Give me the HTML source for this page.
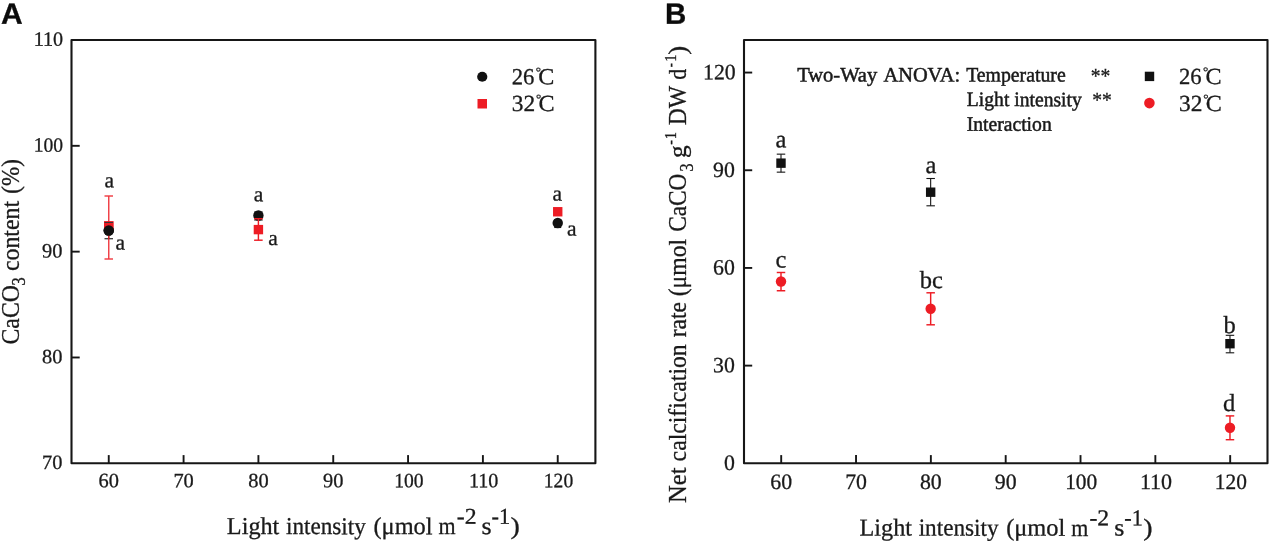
<!DOCTYPE html>
<html><head><meta charset="utf-8"><title>Figure</title>
<style>
html,body{margin:0;padding:0;background:#fff;}
body{width:1269px;height:543px;overflow:hidden;}
svg{display:block;will-change:transform;font-family:"Liberation Serif", "Noto Serif CJK SC", serif;}
svg text{fill:#1a1a1a;stroke:#1a1a1a;stroke-width:0.3px;}
</style></head>
<body>
<svg width="1269" height="543" viewBox="0 0 1269 543">
<rect width="1269" height="543" fill="#ffffff"/>
<rect x="71.5" y="40.0" width="523.90" height="423.30" fill="none" stroke="#161616" stroke-width="2.1" stroke-linejoin="round"/>
<line x1="108.75" y1="463.30" x2="108.75" y2="455.10" stroke="#161616" stroke-width="1.9"/>
<text transform="translate(108.75,487.30) rotate(0.03)" font-size="20.4" text-anchor="middle" >60</text>
<line x1="183.58" y1="463.30" x2="183.58" y2="455.10" stroke="#161616" stroke-width="1.9"/>
<text transform="translate(183.58,487.30) rotate(0.03)" font-size="20.4" text-anchor="middle" >70</text>
<line x1="258.41" y1="463.30" x2="258.41" y2="455.10" stroke="#161616" stroke-width="1.9"/>
<text transform="translate(258.41,487.30) rotate(0.03)" font-size="20.4" text-anchor="middle" >80</text>
<line x1="333.24" y1="463.30" x2="333.24" y2="455.10" stroke="#161616" stroke-width="1.9"/>
<text transform="translate(333.24,487.30) rotate(0.03)" font-size="20.4" text-anchor="middle" >90</text>
<line x1="408.07" y1="463.30" x2="408.07" y2="455.10" stroke="#161616" stroke-width="1.9"/>
<text transform="translate(394.16,487.30) rotate(0.03)" font-size="20.4" textLength="29.35" lengthAdjust="spacingAndGlyphs" >100</text>
<line x1="482.90" y1="463.30" x2="482.90" y2="455.10" stroke="#161616" stroke-width="1.9"/>
<text transform="translate(468.94,487.30) rotate(0.03)" font-size="20.4" textLength="29.42" lengthAdjust="spacingAndGlyphs" >110</text>
<line x1="557.73" y1="463.30" x2="557.73" y2="455.10" stroke="#161616" stroke-width="1.9"/>
<text transform="translate(543.82,487.30) rotate(0.03)" font-size="20.4" textLength="29.35" lengthAdjust="spacingAndGlyphs" >120</text>
<text transform="translate(62.40,469.10) rotate(0.03)" font-size="20.4" text-anchor="end" >70</text>
<line x1="71.50" y1="357.48" x2="79.70" y2="357.48" stroke="#161616" stroke-width="1.9"/>
<text transform="translate(62.40,363.28) rotate(0.03)" font-size="20.4" text-anchor="end" >80</text>
<line x1="71.50" y1="251.65" x2="79.70" y2="251.65" stroke="#161616" stroke-width="1.9"/>
<text transform="translate(62.40,257.45) rotate(0.03)" font-size="20.4" text-anchor="end" >90</text>
<line x1="71.50" y1="145.82" x2="79.70" y2="145.82" stroke="#161616" stroke-width="1.9"/>
<text transform="translate(33.79,151.62) rotate(0.03)" font-size="20.4" textLength="29.35" lengthAdjust="spacingAndGlyphs" >100</text>
<text transform="translate(33.74,45.80) rotate(0.03)" font-size="20.4" textLength="29.42" lengthAdjust="spacingAndGlyphs" >110</text>
<rect x="104.05" y="221.30" width="9.4" height="9.4" fill="#ed1c24"/>
<line x1="108.75" y1="222.50" x2="108.75" y2="238.75" stroke="#151515" stroke-width="1.1"/>
<line x1="104.50" y1="222.50" x2="113.00" y2="222.50" stroke="#151515" stroke-width="1.1"/>
<line x1="104.50" y1="238.75" x2="113.00" y2="238.75" stroke="#151515" stroke-width="1.1"/>
<circle cx="108.75" cy="230.50" r="5.2" fill="#111"/>
<g opacity="0.85">
<line x1="108.75" y1="196.00" x2="108.75" y2="259.00" stroke="#ed1c24" stroke-width="1.45"/>
<line x1="104.50" y1="196.00" x2="113.00" y2="196.00" stroke="#ed1c24" stroke-width="1.45"/>
<line x1="104.50" y1="259.00" x2="113.00" y2="259.00" stroke="#ed1c24" stroke-width="1.45"/>
</g>
<rect x="104.05" y="221.30" width="9.4" height="9.4" fill="#ed1c24"/>
<circle cx="108.75" cy="230.50" r="5.2" fill="#111"/>
<line x1="104.55" y1="222.50" x2="112.95" y2="222.50" stroke="#0c3a3a" stroke-width="0.8"/>
<line x1="258.41" y1="212.00" x2="258.41" y2="220.00" stroke="#151515" stroke-width="1.1"/>
<line x1="254.16" y1="212.00" x2="262.66" y2="212.00" stroke="#151515" stroke-width="1.1"/>
<line x1="254.16" y1="220.00" x2="262.66" y2="220.00" stroke="#151515" stroke-width="1.1"/>
<circle cx="258.41" cy="215.50" r="5.2" fill="#111"/>
<line x1="258.41" y1="218.75" x2="258.41" y2="240.20" stroke="#ed1c24" stroke-width="1.45"/>
<line x1="254.16" y1="218.75" x2="262.66" y2="218.75" stroke="#ed1c24" stroke-width="1.45"/>
<line x1="254.16" y1="240.20" x2="262.66" y2="240.20" stroke="#ed1c24" stroke-width="1.45"/>
<rect x="253.71" y="224.90" width="9.4" height="9.4" fill="#ed1c24"/>
<rect x="553.03" y="207.05" width="9.4" height="9.4" fill="#ed1c24"/>
<line x1="557.73" y1="220.00" x2="557.73" y2="227.50" stroke="#151515" stroke-width="1.1"/>
<line x1="554.23" y1="220.00" x2="561.23" y2="220.00" stroke="#151515" stroke-width="1.1"/>
<line x1="554.23" y1="227.50" x2="561.23" y2="227.50" stroke="#151515" stroke-width="1.1"/>
<circle cx="557.73" cy="223.00" r="5.2" fill="#111"/>
<text transform="translate(109.20,187.35) rotate(0.03)" font-size="21.5" text-anchor="middle" >a</text>
<text transform="translate(120.30,249.60) rotate(0.03)" font-size="21.5" text-anchor="middle" >a</text>
<text transform="translate(258.50,201.35) rotate(0.03)" font-size="21.5" text-anchor="middle" >a</text>
<text transform="translate(272.90,245.10) rotate(0.03)" font-size="21.5" text-anchor="middle" >a</text>
<text transform="translate(557.30,200.60) rotate(0.03)" font-size="21.5" text-anchor="middle" >a</text>
<text transform="translate(571.80,235.60) rotate(0.03)" font-size="21.5" text-anchor="middle" >a</text>
<circle cx="482.25" cy="76.75" r="5.1" fill="#111"/>
<rect x="477.50" y="99.00" width="9.5" height="9.5" fill="#ed1c24"/>
<text transform="translate(511.74,84.20) rotate(0.03)" font-size="23" textLength="22.64" lengthAdjust="spacingAndGlyphs" >26</text>
<text transform="translate(535.78,76.10) rotate(0.03)" font-size="12.6" textLength="5.24" lengthAdjust="spacingAndGlyphs" >°</text>
<text transform="translate(538.34,84.20) rotate(0.03)" font-size="23" textLength="16.08" lengthAdjust="spacingAndGlyphs" >C</text>
<text transform="translate(511.79,111.00) rotate(0.03)" font-size="23" textLength="23.40" lengthAdjust="spacingAndGlyphs" >32</text>
<text transform="translate(535.98,102.90) rotate(0.03)" font-size="12.6" textLength="5.24" lengthAdjust="spacingAndGlyphs" >°</text>
<text transform="translate(538.54,111.00) rotate(0.03)" font-size="23" textLength="16.08" lengthAdjust="spacingAndGlyphs" >C</text>
<rect x="1144.80" y="71.70" width="9.4" height="9.4" fill="#111"/>
<circle cx="1149.40" cy="103.10" r="5.3" fill="#ed1c24"/>
<text transform="translate(1178.94,83.90) rotate(0.03)" font-size="23" textLength="22.64" lengthAdjust="spacingAndGlyphs" >26</text>
<text transform="translate(1202.98,75.80) rotate(0.03)" font-size="12.6" textLength="5.24" lengthAdjust="spacingAndGlyphs" >°</text>
<text transform="translate(1205.54,83.90) rotate(0.03)" font-size="23" textLength="16.08" lengthAdjust="spacingAndGlyphs" >C</text>
<text transform="translate(1178.99,111.00) rotate(0.03)" font-size="23" textLength="23.40" lengthAdjust="spacingAndGlyphs" >32</text>
<text transform="translate(1203.18,102.90) rotate(0.03)" font-size="12.6" textLength="5.24" lengthAdjust="spacingAndGlyphs" >°</text>
<text transform="translate(1205.74,111.00) rotate(0.03)" font-size="23" textLength="16.08" lengthAdjust="spacingAndGlyphs" >C</text>
<text transform="translate(1.05,23.75) rotate(0.03)" font-size="29.3" textLength="21.67" lengthAdjust="spacingAndGlyphs" font-family='"Liberation Sans", sans-serif' font-weight='bold' style='fill:#0b0b0b;stroke:#0b0b0b'>A</text>
<text transform="translate(665.01,23.75) rotate(0.03)" font-size="29.3" textLength="21.31" lengthAdjust="spacingAndGlyphs" font-family='"Liberation Sans", sans-serif' font-weight='bold' style='fill:#0b0b0b;stroke:#0b0b0b'>B</text>
<text transform="translate(226.83,534.10) rotate(0.03)" font-size="24.2" textLength="52.53" lengthAdjust="spacingAndGlyphs" >Light</text>
<text transform="translate(285.94,534.10) rotate(0.03)" font-size="24.2" textLength="79.91" lengthAdjust="spacingAndGlyphs" >intensity</text>
<text transform="translate(373.46,534.10) rotate(0.03)" font-size="24.2" textLength="59.12" lengthAdjust="spacingAndGlyphs" >(μmol</text>
<text transform="translate(438.56,534.10) rotate(0.03)" font-size="24.2" textLength="17.08" lengthAdjust="spacingAndGlyphs" >m</text>
<text transform="translate(456.71,523.80) rotate(0.03)" font-size="22.6" textLength="19.81" lengthAdjust="spacingAndGlyphs" >-2</text>
<text transform="translate(481.46,534.10) rotate(0.03)" font-size="24.2" textLength="10.09" lengthAdjust="spacingAndGlyphs" >s</text>
<text transform="translate(491.56,523.80) rotate(0.03)" font-size="22.6" textLength="18.59" lengthAdjust="spacingAndGlyphs" >-1</text>
<text transform="translate(510.59,534.10) rotate(0.03)" font-size="24.2" textLength="9.31" lengthAdjust="spacingAndGlyphs" >)</text>
<text transform="translate(859.53,535.60) rotate(0.03)" font-size="24.2" textLength="52.53" lengthAdjust="spacingAndGlyphs" >Light</text>
<text transform="translate(918.64,535.60) rotate(0.03)" font-size="24.2" textLength="79.91" lengthAdjust="spacingAndGlyphs" >intensity</text>
<text transform="translate(1006.16,535.60) rotate(0.03)" font-size="24.2" textLength="59.12" lengthAdjust="spacingAndGlyphs" >(μmol</text>
<text transform="translate(1071.26,535.60) rotate(0.03)" font-size="24.2" textLength="17.08" lengthAdjust="spacingAndGlyphs" >m</text>
<text transform="translate(1089.41,525.30) rotate(0.03)" font-size="22.6" textLength="19.81" lengthAdjust="spacingAndGlyphs" >-2</text>
<text transform="translate(1114.16,535.60) rotate(0.03)" font-size="24.2" textLength="10.09" lengthAdjust="spacingAndGlyphs" >s</text>
<text transform="translate(1124.26,525.30) rotate(0.03)" font-size="22.6" textLength="18.59" lengthAdjust="spacingAndGlyphs" >-1</text>
<text transform="translate(1143.29,535.60) rotate(0.03)" font-size="24.2" textLength="9.31" lengthAdjust="spacingAndGlyphs" >)</text>
<text transform="translate(18.50,344.45) rotate(-90)" font-size="24.2" textLength="59.30" lengthAdjust="spacingAndGlyphs" >CaCO</text>
<text transform="translate(25.40,285.81) rotate(-90)" font-size="18.5" textLength="8.48" lengthAdjust="spacingAndGlyphs" >3</text>
<text transform="translate(18.50,271.09) rotate(-90)" font-size="24.2" textLength="70.24" lengthAdjust="spacingAndGlyphs" >content</text>
<text transform="translate(18.50,193.73) rotate(-90)" font-size="24.2" textLength="34.54" lengthAdjust="spacingAndGlyphs" >(%)</text>
<text transform="translate(686.10,502.98) rotate(-90)" font-size="24.2" textLength="35.53" lengthAdjust="spacingAndGlyphs" >Net</text>
<text transform="translate(686.10,461.39) rotate(-90)" font-size="24.2" textLength="117.12" lengthAdjust="spacingAndGlyphs" >calcification</text>
<text transform="translate(686.10,337.27) rotate(-90)" font-size="24.2" textLength="35.26" lengthAdjust="spacingAndGlyphs" >rate</text>
<text transform="translate(686.10,296.31) rotate(-90)" font-size="24.2" textLength="57.38" lengthAdjust="spacingAndGlyphs" >(μmol</text>
<text transform="translate(686.10,231.83) rotate(-90)" font-size="24.2" textLength="58.16" lengthAdjust="spacingAndGlyphs" >CaCO</text>
<text transform="translate(692.70,171.79) rotate(-90)" font-size="18.5" textLength="8.36" lengthAdjust="spacingAndGlyphs" >3</text>
<text transform="translate(686.10,157.88) rotate(-90)" font-size="24.2" textLength="12.69" lengthAdjust="spacingAndGlyphs" >g</text>
<text transform="translate(676.10,144.83) rotate(-90)" font-size="17.5" textLength="4.67" lengthAdjust="spacingAndGlyphs" >-</text>
<text transform="translate(676.10,139.32) rotate(-90)" font-size="17.5" textLength="7.23" lengthAdjust="spacingAndGlyphs" >1</text>
<text transform="translate(686.10,125.25) rotate(-90)" font-size="24.2" textLength="39.37" lengthAdjust="spacingAndGlyphs" >DW</text>
<text transform="translate(686.10,79.87) rotate(-90)" font-size="24.2" textLength="10.94" lengthAdjust="spacingAndGlyphs" >d</text>
<text transform="translate(676.10,67.16) rotate(-90)" font-size="17.5" textLength="4.10" lengthAdjust="spacingAndGlyphs" >-</text>
<text transform="translate(676.10,61.87) rotate(-90)" font-size="17.5" textLength="7.23" lengthAdjust="spacingAndGlyphs" >1</text>
<text transform="translate(686.10,54.67) rotate(-90)" font-size="24.2" textLength="8.92" lengthAdjust="spacingAndGlyphs" >)</text>
<rect x="744.0" y="40.0" width="523.50" height="423.30" fill="none" stroke="#161616" stroke-width="2.1" stroke-linejoin="round"/>
<line x1="781.20" y1="463.30" x2="781.20" y2="455.10" stroke="#161616" stroke-width="1.9"/>
<text transform="translate(781.20,488.90) rotate(0.03)" font-size="21.8" text-anchor="middle" >60</text>
<line x1="856.03" y1="463.30" x2="856.03" y2="455.10" stroke="#161616" stroke-width="1.9"/>
<text transform="translate(856.03,488.90) rotate(0.03)" font-size="21.8" text-anchor="middle" >70</text>
<line x1="930.86" y1="463.30" x2="930.86" y2="455.10" stroke="#161616" stroke-width="1.9"/>
<text transform="translate(930.86,488.90) rotate(0.03)" font-size="21.8" text-anchor="middle" >80</text>
<line x1="1005.69" y1="463.30" x2="1005.69" y2="455.10" stroke="#161616" stroke-width="1.9"/>
<text transform="translate(1005.69,488.90) rotate(0.03)" font-size="21.8" text-anchor="middle" >90</text>
<line x1="1080.52" y1="463.30" x2="1080.52" y2="455.10" stroke="#161616" stroke-width="1.9"/>
<text transform="translate(1065.15,488.90) rotate(0.03)" font-size="21.8" textLength="32.07" lengthAdjust="spacingAndGlyphs" >100</text>
<line x1="1155.35" y1="463.30" x2="1155.35" y2="455.10" stroke="#161616" stroke-width="1.9"/>
<text transform="translate(1139.93,488.90) rotate(0.03)" font-size="21.8" textLength="32.16" lengthAdjust="spacingAndGlyphs" >110</text>
<line x1="1230.18" y1="463.30" x2="1230.18" y2="455.10" stroke="#161616" stroke-width="1.9"/>
<text transform="translate(1214.81,488.90) rotate(0.03)" font-size="21.8" textLength="32.07" lengthAdjust="spacingAndGlyphs" >120</text>
<text transform="translate(734.90,469.95) rotate(0.03)" font-size="21.8" text-anchor="end" >0</text>
<line x1="744.00" y1="365.62" x2="752.20" y2="365.62" stroke="#161616" stroke-width="1.9"/>
<text transform="translate(734.90,372.27) rotate(0.03)" font-size="21.8" text-anchor="end" >30</text>
<line x1="744.00" y1="267.93" x2="752.20" y2="267.93" stroke="#161616" stroke-width="1.9"/>
<text transform="translate(734.90,274.58) rotate(0.03)" font-size="21.8" text-anchor="end" >60</text>
<line x1="744.00" y1="170.25" x2="752.20" y2="170.25" stroke="#161616" stroke-width="1.9"/>
<text transform="translate(734.90,176.90) rotate(0.03)" font-size="21.8" text-anchor="end" >90</text>
<line x1="744.00" y1="72.56" x2="752.20" y2="72.56" stroke="#161616" stroke-width="1.9"/>
<text transform="translate(702.99,79.21) rotate(0.03)" font-size="21.8" textLength="32.73" lengthAdjust="spacingAndGlyphs" >120</text>
<line x1="781.00" y1="154.15" x2="781.00" y2="172.15" stroke="#151515" stroke-width="1.1"/>
<line x1="776.75" y1="154.15" x2="785.25" y2="154.15" stroke="#151515" stroke-width="1.1"/>
<line x1="776.75" y1="172.15" x2="785.25" y2="172.15" stroke="#151515" stroke-width="1.1"/>
<rect x="776.30" y="158.45" width="9.4" height="9.4" fill="#111"/>
<line x1="781.00" y1="272.50" x2="781.00" y2="290.75" stroke="#ed1c24" stroke-width="1.45"/>
<line x1="776.75" y1="272.50" x2="785.25" y2="272.50" stroke="#ed1c24" stroke-width="1.45"/>
<line x1="776.75" y1="290.75" x2="785.25" y2="290.75" stroke="#ed1c24" stroke-width="1.45"/>
<circle cx="781.00" cy="281.50" r="5.2" fill="#ed1c24"/>
<line x1="930.66" y1="178.50" x2="930.66" y2="205.80" stroke="#151515" stroke-width="1.1"/>
<line x1="926.41" y1="178.50" x2="934.91" y2="178.50" stroke="#151515" stroke-width="1.1"/>
<line x1="926.41" y1="205.80" x2="934.91" y2="205.80" stroke="#151515" stroke-width="1.1"/>
<rect x="925.96" y="187.50" width="9.4" height="9.4" fill="#111"/>
<line x1="930.66" y1="292.80" x2="930.66" y2="324.80" stroke="#ed1c24" stroke-width="1.45"/>
<line x1="926.41" y1="292.80" x2="934.91" y2="292.80" stroke="#ed1c24" stroke-width="1.45"/>
<line x1="926.41" y1="324.80" x2="934.91" y2="324.80" stroke="#ed1c24" stroke-width="1.45"/>
<circle cx="930.66" cy="308.80" r="5.2" fill="#ed1c24"/>
<line x1="1229.98" y1="335.30" x2="1229.98" y2="352.80" stroke="#151515" stroke-width="1.1"/>
<line x1="1225.73" y1="335.30" x2="1234.23" y2="335.30" stroke="#151515" stroke-width="1.1"/>
<line x1="1225.73" y1="352.80" x2="1234.23" y2="352.80" stroke="#151515" stroke-width="1.1"/>
<rect x="1225.28" y="339.00" width="9.4" height="9.4" fill="#111"/>
<line x1="1229.98" y1="415.90" x2="1229.98" y2="439.70" stroke="#ed1c24" stroke-width="1.45"/>
<line x1="1225.73" y1="415.90" x2="1234.23" y2="415.90" stroke="#ed1c24" stroke-width="1.45"/>
<line x1="1225.73" y1="439.70" x2="1234.23" y2="439.70" stroke="#ed1c24" stroke-width="1.45"/>
<circle cx="1229.98" cy="427.80" r="5.2" fill="#ed1c24"/>
<text transform="translate(781.00,147.35) rotate(0.03)" font-size="24.5" text-anchor="middle" >a</text>
<text transform="translate(781.00,267.60) rotate(0.03)" font-size="24.5" text-anchor="middle" >c</text>
<text transform="translate(931.00,173.10) rotate(0.03)" font-size="24.5" text-anchor="middle" >a</text>
<text transform="translate(931.40,288.10) rotate(0.03)" font-size="24.5" text-anchor="middle" >bc</text>
<text transform="translate(1229.50,332.90) rotate(0.03)" font-size="24.5" text-anchor="middle" >b</text>
<text transform="translate(1229.00,411.10) rotate(0.03)" font-size="24.5" text-anchor="middle" >d</text>
<text transform="translate(797.14,81.50) rotate(0.03)" font-size="20.5" textLength="80.09" lengthAdjust="spacingAndGlyphs" style="stroke-width:0.5px">Two-Way</text>
<text transform="translate(883.40,81.50) rotate(0.03)" font-size="20.5" textLength="76.73" lengthAdjust="spacingAndGlyphs" style="stroke-width:0.5px">ANOVA:</text>
<text transform="translate(966.15,81.50) rotate(0.03)" font-size="20.5" textLength="99.50" lengthAdjust="spacingAndGlyphs" style="stroke-width:0.5px">Temperature</text>
<text transform="translate(966.86,106.10) rotate(0.03)" font-size="20.5" textLength="114.91" lengthAdjust="spacingAndGlyphs" style="stroke-width:0.5px">Light intensity</text>
<text transform="translate(966.71,130.80) rotate(0.03)" font-size="20.5" textLength="85.00" lengthAdjust="spacingAndGlyphs" style="stroke-width:0.5px">Interaction</text>
<text transform="translate(1090.72,82.60) rotate(0.03)" font-size="21.5" textLength="19.61" lengthAdjust="spacingAndGlyphs" >**</text>
<text transform="translate(1092.32,107.00) rotate(0.03)" font-size="21.5" textLength="19.61" lengthAdjust="spacingAndGlyphs" >**</text>
</svg>
</body></html>
